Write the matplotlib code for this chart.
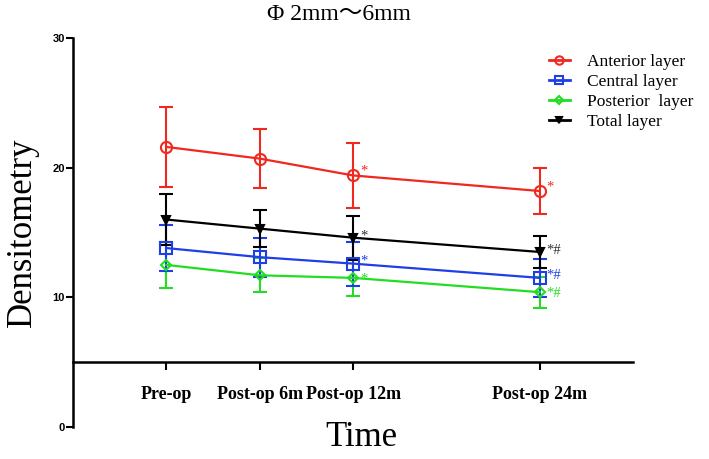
import matplotlib
matplotlib.use("Agg")
import matplotlib.pyplot as plt
from matplotlib.lines import Line2D

# Time points (x positions follow the months, 24m is spaced further out)
time_labels = ["Pre-op", "Post-op 6m", "Post-op 12m", "Post-op 24m"]
time_pos = [0, 1, 2, 4]

# Mean densitometry and SD per layer
anterior_mean = [21.6, 20.7, 19.4, 18.2]
anterior_sd = [3.1, 2.3, 2.5, 1.8]
central_mean = [13.8, 13.1, 12.6, 11.5]
central_sd = [1.8, 1.5, 1.7, 1.45]
posterior_mean = [12.5, 11.7, 11.5, 10.4]
posterior_sd = [1.8, 1.3, 1.4, 1.2]
total_mean = [16.0, 15.3, 14.6, 13.5]
total_sd = [2.0, 1.4, 1.7, 1.2]

# Significance marks at 12m and 24m
sig_marks = ["", "", "*", "*#"]
anterior_marks = ["", "", "*", "*"]

SERIF = ["Liberation Serif", "Noto Sans CJK SC", "DejaVu Sans"]

series = [
    # name, mean, sd, color, marker, marker face, size, marks, mark y offset (pt)
    ("Posterior  layer", posterior_mean, posterior_sd, "#22dd22", "D", "none", 5, sig_marks, -1),
    ("Central layer", central_mean, central_sd, "#1f3fe6", "s", "none", 8, sig_marks, 2),
    ("Total layer", total_mean, total_sd, "black", "v", "black", 6, sig_marks, 1),
    ("Anterior layer", anterior_mean, anterior_sd, "#f0281e", "o", "none", 8, anterior_marks, 3),
]

fig = plt.figure(figsize=(7.09, 4.59), dpi=100)
ax = fig.add_axes([0.103, 0.0697, 0.790, 0.8475])

handles = {}
for name, mean, sd, color, marker, face, ms, marks, dy in series:
    ax.errorbar(time_pos, mean, yerr=sd, color=color, marker=marker,
                markerfacecolor=face, markeredgecolor=color, markersize=ms,
                markeredgewidth=1.5, linewidth=1.6, elinewidth=1.5,
                capsize=5, capthick=1.5)
    # plain line+marker handle for the legend
    handles[name] = Line2D([], [], color=color, marker=marker, markerfacecolor=face,
                           markeredgecolor=color, markersize=ms * 0.75,
                           markeredgewidth=1.5, linewidth=2)
    mark_color = "#333333" if color == "black" else color
    for x, y, m in zip(time_pos, mean, marks):
        if m:
            ax.annotate(m, (x, y), xytext=(5, dy), textcoords="offset points",
                        color=mark_color, fontsize=10.5, family=SERIF,
                        ha="left", va="center")

# Axes styling (Prism-like: x axis crossing at 5)
ax.set_xlim(-1, 5)
ax.set_ylim(0, 30)
ax.spines["top"].set_visible(False)
ax.spines["right"].set_visible(False)
ax.spines["bottom"].set_position(("data", 5))
ax.spines["left"].set_linewidth(1.8)
ax.spines["bottom"].set_linewidth(1.8)

ax.set_yticks([0, 10, 20, 30])
ax.tick_params(axis="y", length=5, width=1.5, pad=1, labelsize=8)
for lbl in ax.get_yticklabels():
    lbl.set_fontweight("bold")
    lbl.set_family(["Liberation Sans", "DejaVu Sans"])

ax.set_xticks(time_pos)
ax.set_xticklabels(time_labels, fontsize=13, fontweight="bold", family=SERIF)
ax.tick_params(axis="x", length=6, width=1.5, pad=11)

# Legend in order anterior, central, posterior, total
order = ["Anterior layer", "Central layer", "Posterior  layer", "Total layer"]
ax.legend([handles[k] for k in order], order, loc="upper left",
          bbox_to_anchor=(549 / 709, 1 - 54 / 459), bbox_transform=fig.transFigure,
          frameon=False, prop={"family": SERIF, "size": 12.5},
          handlelength=1.2, labelspacing=0.22, handletextpad=1.0,
          borderpad=0, borderaxespad=0)

fig.text(0.478, 1 - 15 / 459, "Φ 2mm～6mm", ha="center", va="center",
         fontsize=17, family=SERIF)
fig.text(0.031, 1 - 232 / 459, "Densitometry", rotation=90, ha="center",
         va="center", fontsize=25, family=SERIF)
fig.text(0.509, 1 - 437 / 459, "Time", ha="center", va="center",
         fontsize=25, family=SERIF)

fig.savefig("out.png", dpi=100)
